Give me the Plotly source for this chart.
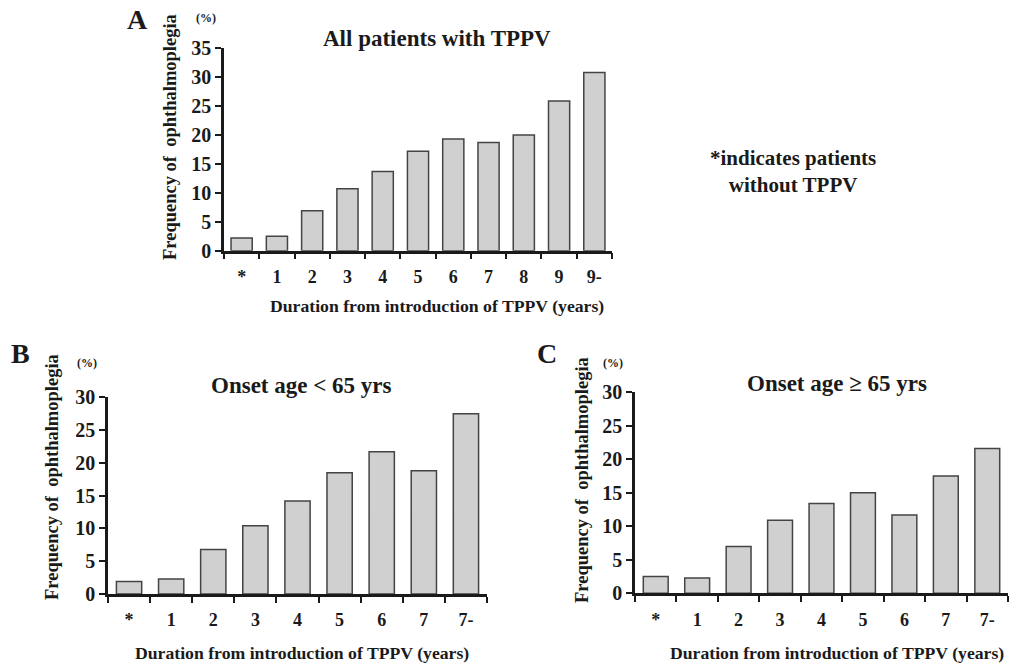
import plotly.graph_objects as go

# Data
cats_a = ["*", "1", "2", "3", "4", "5", "6", "7", "8", "9", "9-"]
vals_a = [2.2, 2.5, 6.9, 10.7, 13.7, 17.2, 19.3, 18.7, 20.0, 25.9, 30.8]

cats_b = ["*", "1", "2", "3", "4", "5", "6", "7", "7-"]
vals_b = [1.9, 2.3, 6.8, 10.4, 14.2, 18.5, 21.7, 18.8, 27.5]

cats_c = ["*", "1", "2", "3", "4", "5", "6", "7", "7-"]
vals_c = [2.5, 2.3, 7.0, 10.9, 13.4, 15.0, 11.7, 17.5, 21.6]

W, H = 1020, 668
FONT = "Liberation Serif"
INK = "#1a1a1a"
VS = 0.967  # vertical correction

def px(x):
    return x / W

def py(y):
    yc = H / 2 + (y - H / 2) / VS
    return 1 - yc / H

fig = go.Figure()

panels = [
    dict(cats=cats_a, vals=vals_a, xa="x", ya="y", xdom=(224, 612), ydom=(250.7, 48.3),
         ymax=35, title="All patients with TPPV", tx=437, ty=39,
         letter="A", lx=137, ly=20, pctx=206, pcty=18, ytx=170, ytc=137, xtt_x=437, xtt_y=306),
    dict(cats=cats_b, vals=vals_b, xa="x2", ya="y2", xdom=(108, 487), ydom=(594, 397.3),
         ymax=30, title="Onset age < 65 yrs", tx=301, ty=385,
         letter="B", lx=20, ly=353, pctx=87, pcty=363, ytx=52, ytc=477, xtt_x=302, xtt_y=653),
    dict(cats=cats_c, vals=vals_c, xa="x3", ya="y3", xdom=(635, 1008), ydom=(593.3, 392.3),
         ymax=30, title="Onset age \u2265 65 yrs", tx=837, ty=383,
         letter="C", lx=547, ly=353, pctx=613, pcty=363, ytx=582, ytc=480, xtt_x=837, xtt_y=653),
]

annotations = []

def ann(text, x, y, size, **kw):
    d = dict(text=text, x=px(x), y=py(y), xref="paper", yref="paper",
             showarrow=False, xanchor="center", yanchor="middle",
             font=dict(family=FONT, size=size, color=INK))
    d.update(kw)
    return d

for i, p in enumerate(panels):
    fig.add_trace(go.Bar(
        x=p["cats"], y=p["vals"], xaxis=p["xa"], yaxis=p["ya"],
        marker=dict(color="#d0d0d0", line=dict(color="#444444", width=1.5)),
        showlegend=False,
    ))
    sfx = "" if i == 0 else str(i + 1)
    fig.layout["xaxis" + sfx] = dict(
        domain=[px(p["xdom"][0]), px(p["xdom"][1])],
        anchor=p["ya"], type="category",
        range=[-0.5, len(p["cats"]) - 0.5],
        showline=True, linecolor=INK, linewidth=2.5,
        ticks="outside", tickson="boundaries", ticklen=6, tickwidth=2, tickcolor=INK,
        ticklabelstandoff=8,
        showgrid=False, zeroline=False,
        tickfont=dict(family=FONT, size=18, color=INK, weight="bold"),
        fixedrange=True,
    )
    fig.layout["yaxis" + sfx] = dict(
        domain=[py(p["ydom"][0]), py(p["ydom"][1])],
        anchor=p["xa"], range=[0, p["ymax"]], dtick=5,
        showline=True, linecolor=INK, linewidth=2.5,
        ticks="outside", ticklen=6, tickwidth=2, tickcolor=INK,
        showgrid=False, zeroline=False,
        tickfont=dict(family=FONT, size=20, color=INK, weight="bold"),
        fixedrange=True,
    )
    annotations += [
        ann("<b>" + p["title"] + "</b>", p["tx"], p["ty"], 23),
        ann("<b>" + p["letter"] + "</b>", p["lx"], p["ly"], 28),
        ann("<b>(%)</b>", p["pctx"], p["pcty"], 12),
        ann("<b>Frequency of  ophthalmoplegia</b>", p["ytx"], p["ytc"], 18.5, textangle=-90),
        ann("<b>Duration from introduction of TPPV (years)</b>", p["xtt_x"], p["xtt_y"], 17.7),
    ]

annotations.append(ann("<b>*indicates patients<br>without TPPV</b>", 793, 172, 21, align="center"))

fig.update_layout(
    width=W, height=H, margin=dict(l=0, r=0, t=0, b=0),
    paper_bgcolor="white", plot_bgcolor="white",
    bargap=0.4, annotations=annotations,
)

fig.write_html("out.html", config={"displayModeBar": False},
               post_script="document.body.style.margin='0';document.body.style.overflow='hidden';")
